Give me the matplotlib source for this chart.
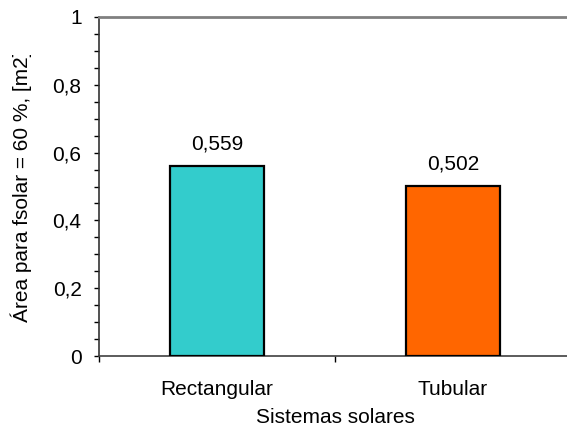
import matplotlib
matplotlib.use("Agg")
import matplotlib.pyplot as plt
from matplotlib.ticker import MultipleLocator, FuncFormatter
from matplotlib.transforms import Bbox

categories = ["Rectangular", "Tubular"]
values = [0.559, 0.502]
value_labels = ["0,559", "0,502"]
colors = ["#33CCCC", "#FF6600"]
yticks = [0, 0.2, 0.4, 0.6, 0.8, 1.0]

plt.rcParams["font.family"] = ["Liberation Sans", "DejaVu Sans"]
FS = 15

W, H = 567, 428
fig = plt.figure(figsize=(W / 100, H / 100), dpi=100)
left, right, top, bottom = 99, 571, 17, 356
ax = fig.add_axes([left / W, (H - bottom) / H, (right - left) / W, (bottom - top) / H])

x = list(range(len(categories)))
ax.bar(x, values, width=0.4, color=colors, edgecolor="black", linewidth=1.6, zorder=3)
for xi, v, lab in zip(x, values, value_labels):
    ax.annotate(lab, (xi, v), xytext=(0, 9), textcoords="offset points",
                ha="center", va="bottom", fontsize=FS)

ax.set_xlim(-0.5, len(categories) - 0.5)
ax.set_ylim(0, 1)
ax.set_yticks(yticks)
ax.yaxis.set_major_formatter(FuncFormatter(lambda v, p: ("%g" % v).replace(".", ",")))
ax.yaxis.set_minor_locator(MultipleLocator(0.05))
ax.tick_params(axis="y", which="major", direction="out", length=3.6, width=1, labelsize=FS, pad=9)
ax.tick_params(axis="y", which="minor", direction="out", length=3.6, width=1)

ax.set_xticks(x)
ax.set_xticklabels(categories, fontsize=FS)
ax.tick_params(axis="x", which="major", length=0, pad=17)
ax.set_xticks([-0.5, 0.5, 1.5], minor=True)
ax.tick_params(axis="x", which="minor", direction="out", length=4.5, width=1)

ax.spines["right"].set_visible(False)
ax.spines["top"].set_color("#808080")
ax.spines["top"].set_linewidth(2)
ax.spines["left"].set_color("#333333")
ax.spines["left"].set_linewidth(1.2)
ax.spines["bottom"].set_color("#404040")
ax.spines["bottom"].set_linewidth(1.2)

ax.set_xlabel("Sistemas solares", fontsize=FS, labelpad=6.5)
ylab = fig.text(21 / W, (H - 322) / H, "Área para fsolar = 60 %, [m2]", rotation=90,
                ha="center", va="bottom", fontsize=FS)
# the label runs past the drawing area at the top; trim it there
ylab.set_clip_box(Bbox([[0, 0], [W, H - 55]]))
ylab.set_clip_on(True)

fig.savefig("out.png", dpi=100)
